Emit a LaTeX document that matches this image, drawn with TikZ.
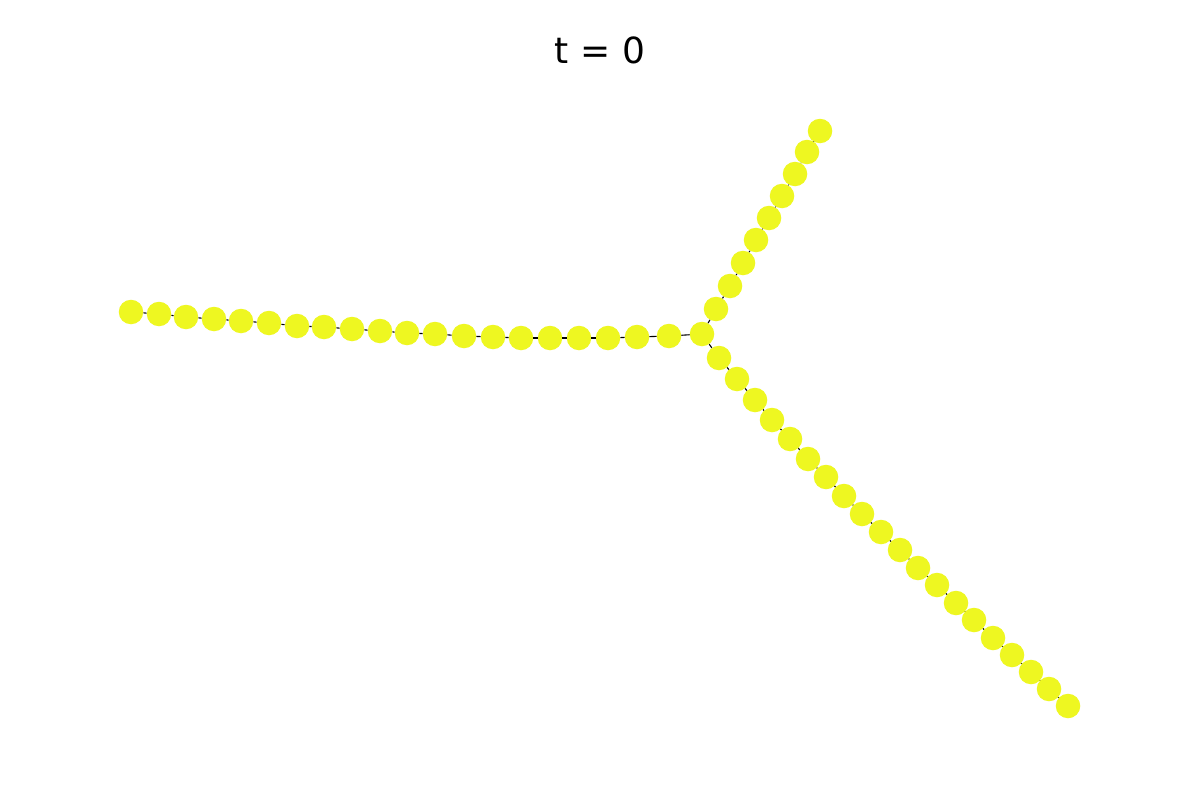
\documentclass[tikz,border=0pt]{standalone}
\usepackage{fontspec}
\setmainfont{DejaVu Sans}
\definecolor{nodeyellow}{RGB}{238,247,33}
\tikzset{
  dot/.style={circle, fill=nodeyellow, draw=none, minimum size=24.5pt, inner sep=0pt},
  link/.style={draw=black, line width=1.1pt},
  titletext/.style={font=\fontsize{36}{42}\selectfont, text=black}
}
\begin{document}
\begin{tikzpicture}[x=1pt, y=-1pt]
\useasboundingbox[fill=white] (0,0) rectangle (1200,800);
\node[titletext] (title) at (600,50) {t = 0};
% centre
\node[dot] (c) at (702,334) {};
% left branch, far to near
\foreach \x/\y [count=\i] in {131/312,159/314,186/317,214/319,241/321,269/323,297/326,324/327,352/329,380/331,407/333,435/334,464/336,493/337,521/338,550/338,579/338,608/338,637/337,669/336}
  \node[dot] (L\i) at (\x,\y) {};
% up branch, near to far
\foreach \x/\y [count=\i] in {716/309,730/286,743/263,756/240,769/218,782/196,795/174,807/152,820/131}
  \node[dot] (U\i) at (\x,\y) {};
% down branch, near to far
\foreach \x/\y [count=\i] in {719/358,737/379,755/400,772/420,790/439,808/459,826/477,844/496,862/514,881/532,900/550,918/568,937/585,956/603,974/620,993/638,1012/655,1031/672,1049/689,1068/706}
  \node[dot] (D\i) at (\x,\y) {};
% edges
\foreach \i [evaluate=\i as \j using int(\i+1)] in {1,...,19}
  \draw[link] (L\i) -- (L\j);
\draw[link] (L20) -- (c);
\draw[link] (c) -- (U1);
\foreach \i [evaluate=\i as \j using int(\i+1)] in {1,...,8}
  \draw[link] (U\i) -- (U\j);
\draw[link] (c) -- (D1);
\foreach \i [evaluate=\i as \j using int(\i+1)] in {1,...,19}
  \draw[link] (D\i) -- (D\j);
\end{tikzpicture}
\end{document}
